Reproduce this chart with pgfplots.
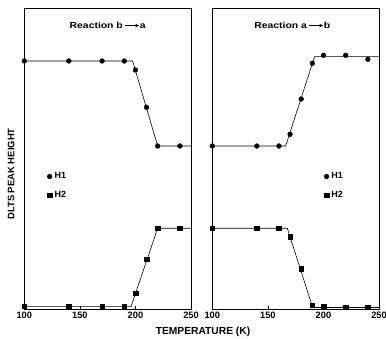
\documentclass[border=0pt]{standalone}
\usepackage{fontspec}
\setmainfont{Liberation Sans}
\newfontfamily\widefont[FakeStretch=1.2]{Liberation Sans}
\usepackage{pgfplots}
\pgfplotsset{compat=1.18}
\usetikzlibrary{arrows.meta}
\newcommand{\arr}{\,\tikz[baseline=-0.55ex]\draw[line width=0.6pt,-{Latex[length=4pt,width=3.5pt]}] (0,0)--(15pt,0);}
\pgfplotsset{panel/.style={
  scale only axis, width=166.7bp, height=301bp,
  xmin=100, xmax=250, ymin=0, ymax=301,
  xtick={100,150,200,250}, ytick=\empty,
  tick align=inside, xtick pos=bottom, major tick length=3bp,
  axis line style={line width=0.8pt},
  every tick/.style={black, line width=0.7pt},
  ticklabel style={font=\bfseries\fontsize{9.3}{9.3}\selectfont},
  /pgf/number format/assume math mode=true,
  /pgf/number format/1000 sep={},
  clip=false,
  legend cell align=left,
  legend style={draw=none, fill=none, font=\bfseries\fontsize{9}{9}\selectfont,
    row sep=7bp, inner sep=0pt, nodes={inner xsep=2.5bp}},
  h1/.style={only marks, mark=*, mark size=2.4bp, black},
  h2/.style={only marks, mark=square*, mark size=2.3bp, black},
  fit/.style={no marks, black, line width=0.6pt, forget plot},
}}
\begin{document}
\begin{tikzpicture}
\useasboundingbox (0,0) rectangle (386bp,339bp);
\begin{axis}[panel, at={(24.3bp,30bp)}, anchor=south west,
  legend style={at={(axis cs:120.5,138.5)}, anchor=north west}]
\addplot[h1] coordinates {(100,248)(140,248)(170,248)(190,248)(200,239)(210,201.7)(220,163)(240,163)};
\addplot[h2] coordinates {(100,3)(140,3)(170,3)(190,3)(200,16)(210,49.7)(220,80.7)(240,80.7)};
\addplot[fit] coordinates {(100,248)(197.5,248)(220,163)(250,163)};
\addplot[fit] coordinates {(100,2.3)(196,2.3)(220,80.7)(250,80.7)};
\legend{H1,H2}
\node[font=\widefont\bfseries\fontsize{8.7}{8.7}\selectfont] at (axis cs:175,284) {Reaction b\arr a};
\end{axis}
\begin{axis}[panel, at={(212.3bp,30bp)}, anchor=south west,
  legend style={at={(axis cs:200.5,138.5)}, anchor=north west}]
\addplot[h1] coordinates {(100,163)(140,163)(160,163)(170,174.7)(180,210)(190,245.7)(200,253.7)(220,253.7)(240,249.7)};
\addplot[h2] coordinates {(100,80.7)(140,80.7)(160,80.7)(170,72.3)(180,40.3)(190,4)(200,2.7)(220,2)(240,2)};
\addplot[fit] coordinates {(100,163)(166,163)(192,252.3)(250,252.3)};
\addplot[fit] coordinates {(100,80.7)(167.5,80.7)(190.3,1.5)(250,1.5)};
\legend{H1,H2}
\node[font=\widefont\bfseries\fontsize{8.7}{8.7}\selectfont] at (axis cs:172,284) {Reaction a\arr b};
\end{axis}
\node[rotate=90, font=\bfseries\fontsize{9.5}{9.5}\selectfont] at (11bp,165bp) {DLTS PEAK HEIGHT};
\node[font=\bfseries\fontsize{10.3}{10.3}\selectfont] at (203bp,7bp) {TEMPERATURE (K)};
\end{tikzpicture}
\end{document}
